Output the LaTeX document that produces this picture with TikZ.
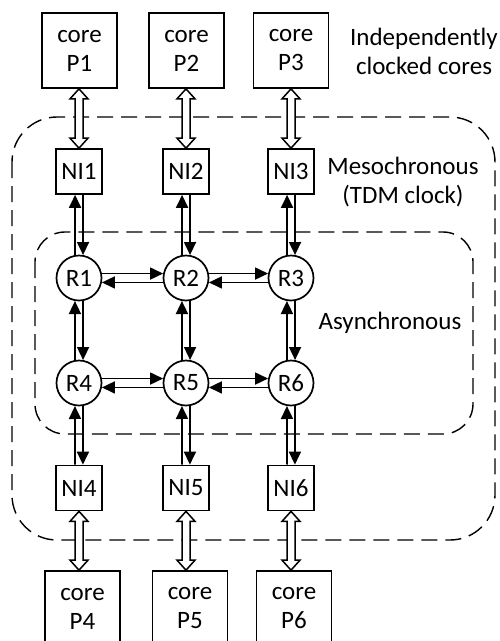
\documentclass[tikz,border=0pt]{standalone}
\usepackage{fontspec}
\setmainfont{Carlito}
\usetikzlibrary{arrows.meta,calc}
\newcommand\hollowarrow[2]{\draw[hollow] (#1) -- ++(-9,10) -- ++(5,0) -- ($(#2)+(-4,-10)$) -- ++(-5,0) -- (#2) -- ++(9,-10) -- ++(-5,0) -- ($(#1)+(4,10)$) -- ++(5,0) -- cycle;}
\begin{document}
\begin{tikzpicture}[x=1pt,y=-1pt, font=\fontsize{25}{29}\selectfont, line width=1.7pt,
  core/.style={draw, minimum width=75pt, minimum height=75pt, align=center, inner sep=0pt},
  ni/.style={draw, fill=white, minimum width=46pt, minimum height=45pt, inner sep=0pt},
  router/.style={draw, fill=white, circle, minimum size=45pt, inner sep=0pt},
  arr/.style={-{Triangle[length=13pt,width=12pt]}},
  zone/.style={dash pattern=on 16pt off 8pt, line width=1.4pt},
  hollow/.style={draw, fill=white, line width=1.5pt, line join=miter},
  lbl/.style={align=center}]
\useasboundingbox (0,0) rectangle (499,641);
% zones
\draw[zone, rounded corners=45pt] (12,117) rectangle (495,540);
\draw[zone, rounded corners=30pt] (35,232) rectangle (473,434);
% cores
\node[core] (P1) at (79.5,50.5) {core\\P1};
\node[core] (P2) at (186.5,50.5) {core\\P2};
\node[core] (P3) at (291,50.5) {core\\P3};
\node[core] (P4) at (82.5,608.5) {core\\P4};
\node[core] (P5) at (190,608.5) {core\\P5};
\node[core] (P6) at (294,608.5) {core\\P6};
% network interfaces
\node[ni] (NI1) at (79,171.5) {NI1};
\node[ni] (NI2) at (186,171.5) {NI2};
\node[ni] (NI3) at (291,171.5) {NI3};
\node[ni] (NI4) at (79,488) {NI4};
\node[ni] (NI5) at (186,488) {NI5};
\node[ni] (NI6) at (291,488) {NI6};
% routers
\node[router] (R1) at (79,278) {R1};
\node[router] (R2) at (186,278) {R2};
\node[router] (R3) at (291,278) {R3};
\node[router] (R4) at (79,383) {R4};
\node[router] (R5) at (186,383) {R5};
\node[router] (R6) at (291,383) {R6};
% labels
\node[lbl] (l1) at (424,51) {Independently\\clocked cores};
\node[lbl] (l2) at (403,182) {Mesochronous\\(TDM clock)};
\node (l3) at (390,323) {Asynchronous};
% hollow arrows core <-> NI
\foreach \i in {1,2,3}{
  \coordinate (t\i) at (NI\i.north |- P\i.south);
  \hollowarrow{t\i}{NI\i.north}
}
\foreach \i in {4,5,6}{
  \coordinate (b\i) at (NI\i.south |- P\i.north);
  \hollowarrow{NI\i.south}{b\i}
}
% vertical links
\foreach \n/\r/\s/\m in {1/1/4/4, 2/2/5/5, 3/3/6/6}{
  \draw[arr] (R\r.100) -- ([xshift=-3.9pt]NI\n.south);
  \draw[arr] ([xshift=3.9pt]NI\n.south) -- (R\r.80);
  \draw[arr] (R\s.100) -- (R\r.260);
  \draw[arr] (R\r.280) -- (R\s.80);
  \draw[arr] ([xshift=-3.9pt]NI\m.north) -- (R\s.260);
  \draw[arr] (R\s.280) -- ([xshift=3.9pt]NI\m.north);
}
% horizontal links
\foreach \a/\b in {1/2, 2/3, 4/5, 5/6}{
  \draw[arr] (R\a.11) -- (R\b.169);
  \draw[arr] (R\b.191) -- (R\a.349);
}
\end{tikzpicture}
\end{document}
